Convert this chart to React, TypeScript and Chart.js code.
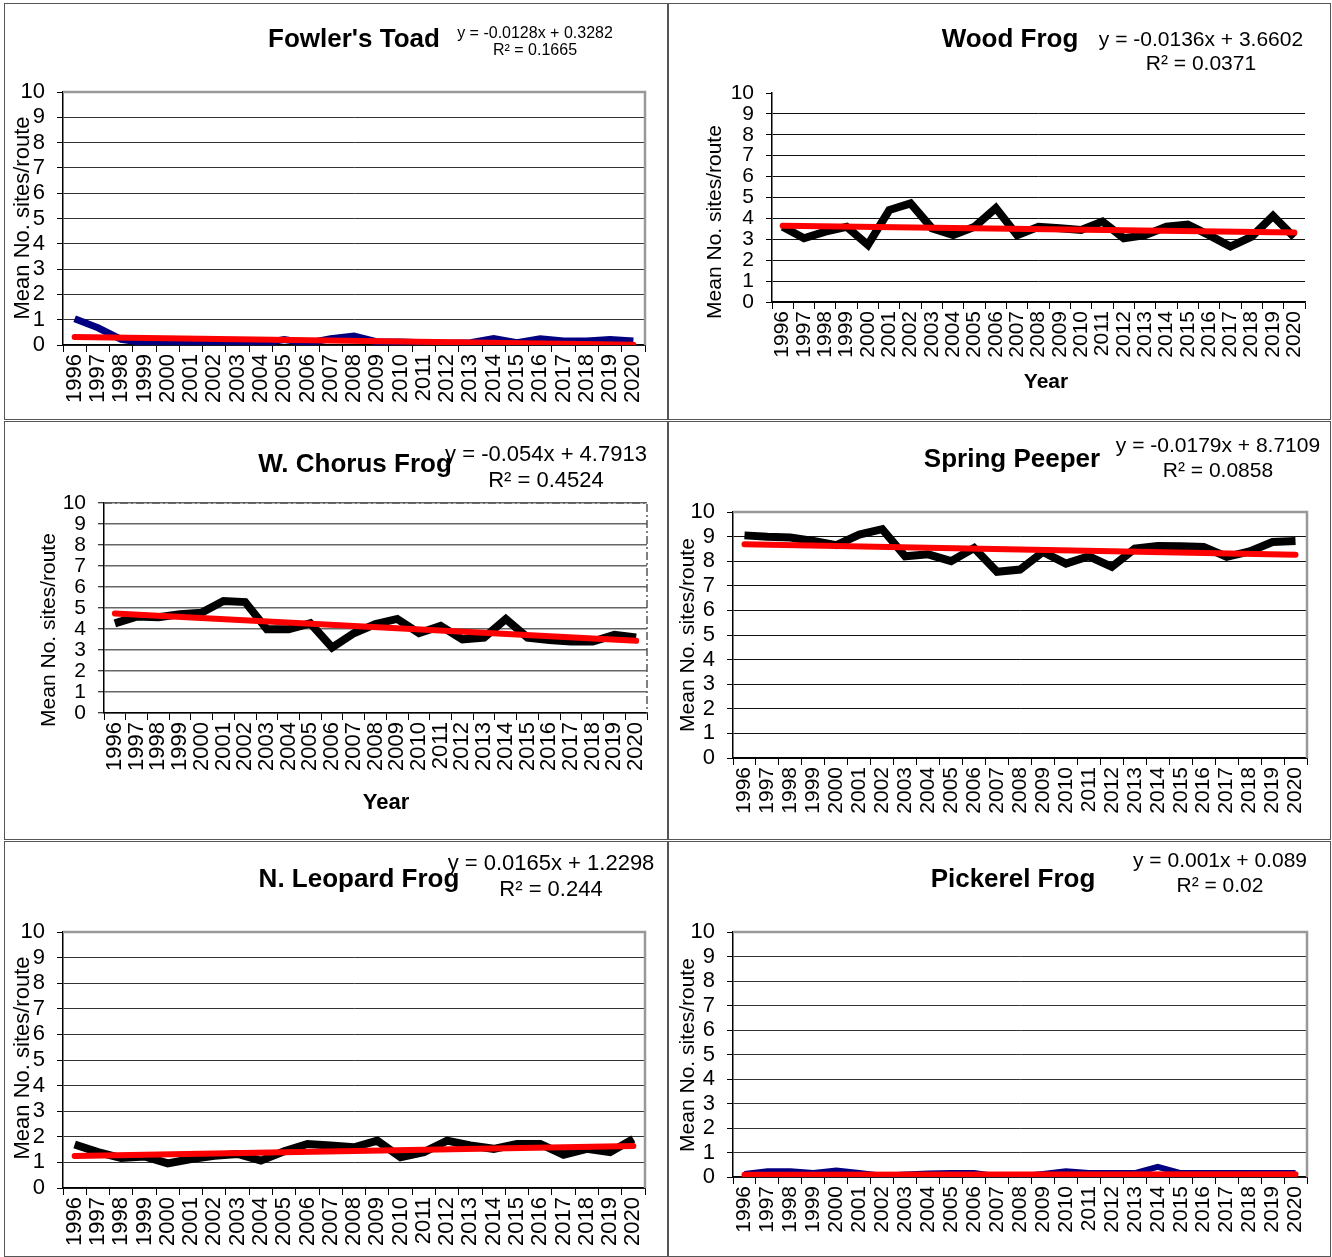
import React, { useEffect, useRef } from "react";
import { Chart, registerables } from "chart.js";

Chart.register(...registerables);

const FONT = "'Liberation Sans', Arial, Helvetica, sans-serif";

// ---------- DATA ----------
const years = [
  "1996", "1997", "1998", "1999", "2000", "2001", "2002", "2003", "2004",
  "2005", "2006", "2007", "2008", "2009", "2010", "2011", "2012", "2013",
  "2014", "2015", "2016", "2017", "2018", "2019", "2020",
];
const yTickValues = [0, 1, 2, 3, 4, 5, 6, 7, 8, 9, 10];

const fowlersToad = [1.04, 0.68, 0.22, 0.09, 0.05, 0.05, 0.05, 0.05, 0.05, 0.22, 0.07, 0.25, 0.35, 0.12, 0.12, 0.09, 0.07, 0.09, 0.25, 0.09, 0.25, 0.16, 0.16, 0.22, 0.16];
const woodFrog = [3.6, 3.05, 3.37, 3.6, 2.73, 4.4, 4.72, 3.53, 3.2, 3.6, 4.5, 3.2, 3.6, 3.53, 3.45, 3.85, 3.05, 3.2, 3.6, 3.7, 3.2, 2.65, 3.13, 4.12, 3.1];
const chorusFrog = [4.27, 4.59, 4.56, 4.7, 4.78, 5.33, 5.28, 3.99, 3.99, 4.27, 3.12, 3.8, 4.24, 4.48, 3.8, 4.15, 3.51, 3.59, 4.48, 3.59, 3.48, 3.4, 3.4, 3.72, 3.6];
const springPeeper = [9.05, 8.99, 8.96, 8.82, 8.65, 9.08, 9.3, 8.2, 8.28, 8.0, 8.54, 7.57, 7.66, 8.38, 7.9, 8.2, 7.77, 8.51, 8.62, 8.61, 8.58, 8.18, 8.4, 8.78, 8.82];
const leopardFrog = [1.7, 1.4, 1.17, 1.23, 0.96, 1.13, 1.26, 1.33, 1.07, 1.43, 1.72, 1.66, 1.59, 1.85, 1.2, 1.4, 1.85, 1.66, 1.53, 1.72, 1.72, 1.3, 1.53, 1.4, 1.92];
const pickerelFrog = [0.12, 0.23, 0.23, 0.16, 0.26, 0.16, 0.05, 0.1, 0.14, 0.16, 0.16, 0.03, 0.03, 0.12, 0.23, 0.16, 0.16, 0.16, 0.41, 0.16, 0.16, 0.16, 0.16, 0.16, 0.16];

// trend line end values (first year, last year)
const trendFowlers = [0.32, 0.01];
const trendWood = [3.65, 3.32];
const trendChorus = [4.74, 3.44];
const trendPeeper = [8.69, 8.26];
const trendLeopard = [1.25, 1.64];
const trendPickerel = [0.09, 0.11];

const titles = ["Fowler's Toad", "Wood Frog", "W. Chorus Frog", "Spring Peeper", "N. Leopard Frog", "Pickerel Frog"];
const equations = [
  "y = -0.0128x + 0.3282",
  "y = -0.0136x + 3.6602",
  "y = -0.054x + 4.7913",
  "y = -0.0179x + 8.7109",
  "y = 0.0165x + 1.2298",
  "y = 0.001x + 0.089",
];
const rSquared = ["R² = 0.1665", "R² = 0.0371", "R² = 0.4524", "R² = 0.0858", "R² = 0.244", "R² = 0.02"];
const yAxisTitle = "Mean No. sites/route";
const xAxisTitle = "Year";

// ---------- LAYOUT / STYLE ----------
type Rect = { x: number; y: number; w: number; h: number };
type Plot = { l: number; t: number; r: number; b: number };
type PanelCfg = {
  values: number[];
  trend: number[];
  title: string;
  eq: string;
  r2: string;
  panel: Rect;
  plot: Plot;
  color: string;
  lineW: number;
  gridColor: string;
  gridW: number;
  frame: "solid" | "dashdot" | "none";
  yFont: number;
  xFont: number;
  titleC: [number, number];
  eqC: [number, number, number];
  eqSize: number;
  yTitleC: [number, number];
  yTitleSize: number;
  yearC?: [number, number, number];
};

const panels: PanelCfg[] = [
  {
    values: fowlersToad, trend: trendFowlers, title: titles[0], eq: equations[0], r2: rSquared[0],
    panel: { x: 4, y: 3, w: 664, h: 417 }, plot: { l: 63, t: 92, r: 645, b: 345 },
    color: "#000080", lineW: 7, gridColor: "#333", gridW: 1, frame: "solid", yFont: 22, xFont: 22,
    titleC: [354, 38], eqC: [535, 33, 50], eqSize: 16, yTitleC: [22, 218], yTitleSize: 22,
  },
  {
    values: woodFrog, trend: trendWood, title: titles[1], eq: equations[1], r2: rSquared[1],
    panel: { x: 668, y: 3, w: 663, h: 417 }, plot: { l: 772, t: 93, r: 1305, b: 302 },
    color: "#000000", lineW: 8, gridColor: "#111", gridW: 1, frame: "none", yFont: 21, xFont: 21,
    titleC: [1010, 38], eqC: [1201, 38, 62], eqSize: 21, yTitleC: [713, 222], yTitleSize: 21,
    yearC: [1046, 380, 21],
  },
  {
    values: chorusFrog, trend: trendChorus, title: titles[2], eq: equations[2], r2: rSquared[2],
    panel: { x: 4, y: 421, w: 664, h: 419 }, plot: { l: 104, t: 503, r: 647, b: 713 },
    color: "#000000", lineW: 8, gridColor: "#666", gridW: 1.5, frame: "dashdot", yFont: 21, xFont: 22,
    titleC: [355, 463], eqC: [546, 454, 480], eqSize: 22, yTitleC: [47, 630], yTitleSize: 21,
    yearC: [386, 802, 22],
  },
  {
    values: springPeeper, trend: trendPeeper, title: titles[3], eq: equations[3], r2: rSquared[3],
    panel: { x: 668, y: 421, w: 663, h: 419 }, plot: { l: 733, t: 512, r: 1307, b: 758 },
    color: "#000000", lineW: 8, gridColor: "#111", gridW: 1, frame: "solid", yFont: 22, xFont: 21,
    titleC: [1012, 458], eqC: [1218, 444, 469], eqSize: 21, yTitleC: [686, 635], yTitleSize: 21,
  },
  {
    values: leopardFrog, trend: trendLeopard, title: titles[4], eq: equations[4], r2: rSquared[4],
    panel: { x: 4, y: 841, w: 664, h: 416 }, plot: { l: 63, t: 932, r: 645, b: 1188 },
    color: "#000000", lineW: 8, gridColor: "#333", gridW: 1, frame: "solid", yFont: 22, xFont: 22,
    titleC: [359, 878], eqC: [551, 863, 889], eqSize: 22, yTitleC: [22, 1058], yTitleSize: 22,
  },
  {
    values: pickerelFrog, trend: trendPickerel, title: titles[5], eq: equations[5], r2: rSquared[5],
    panel: { x: 668, y: 841, w: 663, h: 416 }, plot: { l: 733, t: 932, r: 1307, b: 1177 },
    color: "#000080", lineW: 6, gridColor: "#333", gridW: 1, frame: "solid", yFont: 22, xFont: 21,
    titleC: [1013, 878], eqC: [1220, 859, 884], eqSize: 21, yTitleC: [686, 1055], yTitleSize: 21,
  },
];

const Y_W = 50;
const X_H = 60;

const framePlugin = {
  id: "plotFrame",
  afterDraw(chart: any, _args: any, opts: any) {
    const { ctx, chartArea } = chart;
    if (!opts || opts.mode === "none") return;
    ctx.save();
    if (opts.mode === "solid") {
      ctx.strokeStyle = "#999999";
      ctx.lineWidth = 2.5;
    } else {
      ctx.strokeStyle = "#555555";
      ctx.lineWidth = 1.5;
      ctx.setLineDash([8, 3, 2, 3]);
    }
    ctx.beginPath();
    ctx.moveTo(chartArea.left, chartArea.top);
    ctx.lineTo(chartArea.right, chartArea.top);
    ctx.lineTo(chartArea.right, chartArea.bottom);
    ctx.stroke();
    ctx.restore();
  },
};

function Panel({ cfg }: { cfg: PanelCfg }) {
  const ref = useRef<HTMLCanvasElement | null>(null);
  useEffect(() => {
    if (!ref.current) return;
    const { panel, plot } = cfg;
    const last = years.length - 1;
    const trendData = years.map((_, i) => (i === 0 ? cfg.trend[0] : i === last ? cfg.trend[1] : null));
    const chart = new Chart(ref.current, {
      type: "line",
      data: {
        labels: years,
        datasets: [
          {
            data: trendData as any,
            borderColor: "#ff0000",
            borderWidth: 6,
            pointRadius: 0,
            spanGaps: true,
            borderCapStyle: "round",
            order: 0,
          },
          {
            data: cfg.values,
            borderColor: cfg.color,
            borderWidth: cfg.lineW,
            pointRadius: 0,
            borderJoinStyle: "miter",
            order: 1,
          },
        ],
      },
      options: {
        animation: false,
        responsive: false,
        events: [],
        devicePixelRatio: 1,
        layout: {
          padding: {
            left: plot.l - panel.x - Y_W,
            top: plot.t - panel.y,
            right: panel.x + panel.w - plot.r,
            bottom: panel.y + panel.h - plot.b - X_H,
          },
        },
        plugins: {
          legend: { display: false },
          tooltip: { enabled: false },
          title: { display: false },
          plotFrame: { mode: cfg.frame },
        } as any,
        scales: {
          x: {
            offset: true,
            grid: {
              offset: true,
              drawOnChartArea: false,
              drawTicks: true,
              tickLength: 7,
              tickColor: "#000",
              tickWidth: 1,
            },
            border: { color: "#000", width: 1.5 },
            ticks: {
              autoSkip: false,
              minRotation: 90,
              maxRotation: 90,
              padding: 2,
              color: "#000",
              font: { family: FONT, size: cfg.xFont },
            },
            afterFit: (s: any) => {
              s.height = X_H;
            },
          },
          y: {
            min: 0,
            max: 10,
            afterBuildTicks: (s: any) => {
              s.ticks = yTickValues.map((v) => ({ value: v }));
            },
            ticks: {
              autoSkip: false,
              stepSize: 1,
              padding: 12,
              color: "#000",
              font: { family: FONT, size: cfg.yFont },
            },
            grid: {
              color: (c: any) =>
                cfg.frame === "none" && c.tick && c.tick.value === 10 ? "rgba(0,0,0,0)" : cfg.gridColor,
              lineWidth: cfg.gridW,
              tickLength: 6,
              tickColor: "#000",
              tickWidth: 1,
            },
            border: { color: "#000", width: 1.5 },
            afterFit: (s: any) => {
              s.width = Y_W;
            },
          },
        },
      },
      plugins: [framePlugin],
    } as any);
    return () => chart.destroy();
  }, [cfg]);

  const { panel } = cfg;
  const abs: React.CSSProperties = { position: "absolute", whiteSpace: "nowrap", color: "#000", fontFamily: FONT, lineHeight: 1 };
  return (
    <>
      <canvas
        ref={ref}
        width={panel.w}
        height={panel.h}
        style={{ position: "absolute", left: panel.x, top: panel.y, width: panel.w, height: panel.h }}
      />
      <div
        style={{
          position: "absolute",
          left: panel.x,
          top: panel.y,
          width: panel.w,
          height: panel.h,
          border: "1px solid #555",
          boxSizing: "border-box",
          pointerEvents: "none",
        }}
      />
      <div style={{ ...abs, left: cfg.titleC[0], top: cfg.titleC[1], transform: "translate(-50%,-50%)", fontSize: 26, fontWeight: "bold" }}>
        {cfg.title}
      </div>
      <div style={{ ...abs, left: cfg.eqC[0], top: cfg.eqC[1], transform: "translate(-50%,-50%)", fontSize: cfg.eqSize }}>{cfg.eq}</div>
      <div style={{ ...abs, left: cfg.eqC[0], top: cfg.eqC[2], transform: "translate(-50%,-50%)", fontSize: cfg.eqSize }}>{cfg.r2}</div>
      <div
        style={{
          ...abs,
          left: cfg.yTitleC[0],
          top: cfg.yTitleC[1],
          transform: "translate(-50%,-50%) rotate(-90deg)",
          fontSize: cfg.yTitleSize,
        }}
      >
        {yAxisTitle}
      </div>
      {cfg.yearC && (
        <div
          style={{
            ...abs,
            left: cfg.yearC[0],
            top: cfg.yearC[1],
            transform: "translate(-50%,-50%)",
            fontSize: cfg.yearC[2],
            fontWeight: "bold",
          }}
        >
          {xAxisTitle}
        </div>
      )}
    </>
  );
}

export default function App() {
  return (
    <div style={{ position: "absolute", left: 0, top: 0, width: 1332, height: 1257, background: "#fff", overflow: "hidden" }}>
      {panels.map((p, i) => (
        <Panel key={i} cfg={p} />
      ))}
    </div>
  );
}
